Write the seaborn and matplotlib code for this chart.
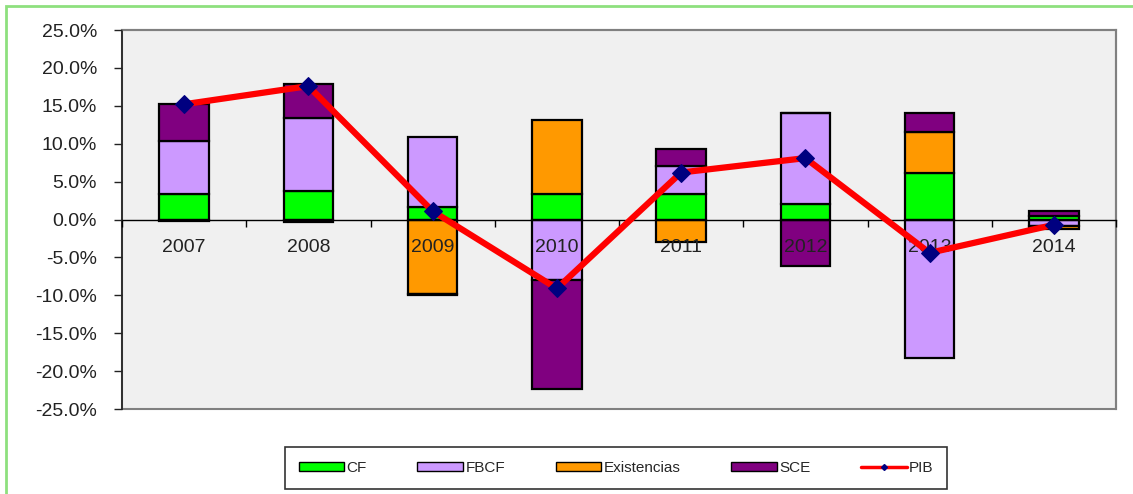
import numpy as np
import matplotlib
matplotlib.use("Agg")
import matplotlib.pyplot as plt
import matplotlib.patches as mpatches
from matplotlib.lines import Line2D
from matplotlib.ticker import FuncFormatter, FixedLocator
import seaborn as sns

# datos (% contribución al crecimiento)
years = ["2007", "2008", "2009", "2010", "2011", "2012", "2013", "2014"]
cf = [3.3, 3.8, 1.6, 3.4, 3.3, 2.0, 6.1, 0.4]
fbcf = [7.0, 9.6, 9.3, -8.0, 3.7, 12.1, -18.3, -0.9]
existencias = [-0.2, -0.3, -9.8, 9.7, -3.0, 0.0, 5.5, -0.3]
sce = [5.0, 4.5, -0.2, -14.4, 2.3, -6.1, 2.4, 0.7]
pib = [15.2, 17.6, 1.1, -9.1, 6.2, 8.1, -4.4, -0.7]

series_names = ["CF", "FBCF", "Existencias", "SCE"]
series_vals = [cf, fbcf, existencias, sce]
colores = ["#00FF00", "#CC99FF", "#FF9900", "#800080"]

sns.set_theme(style="white")
plt.rcParams["font.family"] = ["Liberation Sans", "DejaVu Sans"]

fig = plt.figure(figsize=(11.33, 4.94), dpi=100)
ax = fig.add_axes([122 / 1133, 85 / 494, 994 / 1133, 379 / 494])
ax.set_facecolor("#F0F0F0")
ax.set_axisbelow(False)

x = np.arange(len(years))
pos_base = np.zeros(len(years))
neg_base = np.zeros(len(years))
for name, vals, col in zip(series_names, series_vals, colores):
    v = np.array(vals, dtype=float)
    bottom = np.where(v >= 0, pos_base, neg_base)
    ax.bar(x, v, bottom=bottom, width=0.4, color=col, edgecolor="black",
           linewidth=1.6, zorder=1)
    pos_base = pos_base + np.where(v >= 0, v, 0)
    neg_base = neg_base + np.where(v < 0, v, 0)

# linea PIB
sns.lineplot(x=x, y=pib, ax=ax, color="#FF0000", linewidth=4.5, marker="D",
             markersize=9, markerfacecolor="#000080", markeredgecolor="#000080",
             zorder=4, legend=False)

ax.set_xlim(-0.5, len(years) - 0.5)
ax.set_ylim(-25, 25)
ax.set_yticks([-25, -20, -15, -10, -5, 0, 5, 10, 15, 20, 25])
ax.yaxis.set_major_formatter(FuncFormatter(lambda v, p: f"{v:.1f}%"))
ax.tick_params(axis="y", direction="out", length=6, width=1, color="#222222",
               labelsize=14, labelcolor="#222222", pad=12, left=True)

# eje x en el cero, marcas entre categorías
ax.spines["bottom"].set_position(("data", 0))
ax.spines["bottom"].set_color("black")
ax.spines["bottom"].set_linewidth(1)
ax.xaxis.set_major_locator(FixedLocator(np.arange(-0.5, len(years), 1.0)))
ax.xaxis.set_major_formatter(FuncFormatter(lambda v, p: ""))
ax.xaxis.set_minor_locator(FixedLocator(x))
ax.set_xticklabels(years, minor=True)
ax.tick_params(axis="x", which="major", direction="out", length=5, width=1,
               color="black", bottom=True)
ax.tick_params(axis="x", which="minor", length=0, labelsize=14,
               labelcolor="#222222", pad=14, bottom=True)

for s in ["top", "right"]:
    ax.spines[s].set_color("#808080")
    ax.spines[s].set_linewidth(1.5)
ax.spines["left"].set_color("#222222")
ax.spines["left"].set_linewidth(1.2)
ax.patch.set_edgecolor("#808080")
ax.patch.set_linewidth(1.5)

# leyenda
handles = [mpatches.Patch(facecolor=c, edgecolor="black", linewidth=1) for c in colores]
handles.append(Line2D([], [], color="#FF0000", linewidth=2.5, marker="D",
                      markersize=3, markerfacecolor="#000080",
                      markeredgecolor="#000080"))
leg = fig.legend(handles, series_names + ["PIB"], loc="center",
                 bbox_to_anchor=(616 / 1133, 1 - 468 / 494), ncol=5,
                 fontsize=11, frameon=True, fancybox=False,
                 handlelength=3.0, handleheight=0.5, handletextpad=0.15,
                 columnspacing=3.3, borderpad=0.9)
leg.get_frame().set_edgecolor("black")
leg.get_frame().set_linewidth(1.2)

# marco verde
fig.patches.append(mpatches.Rectangle((6 / 1133, -0.1), 1.2, 1 - 6 / 494 + 0.1,
                                      transform=fig.transFigure, fill=False,
                                      edgecolor="#8EE07E", linewidth=2,
                                      clip_on=False))

fig.savefig("out.png", dpi=100)
